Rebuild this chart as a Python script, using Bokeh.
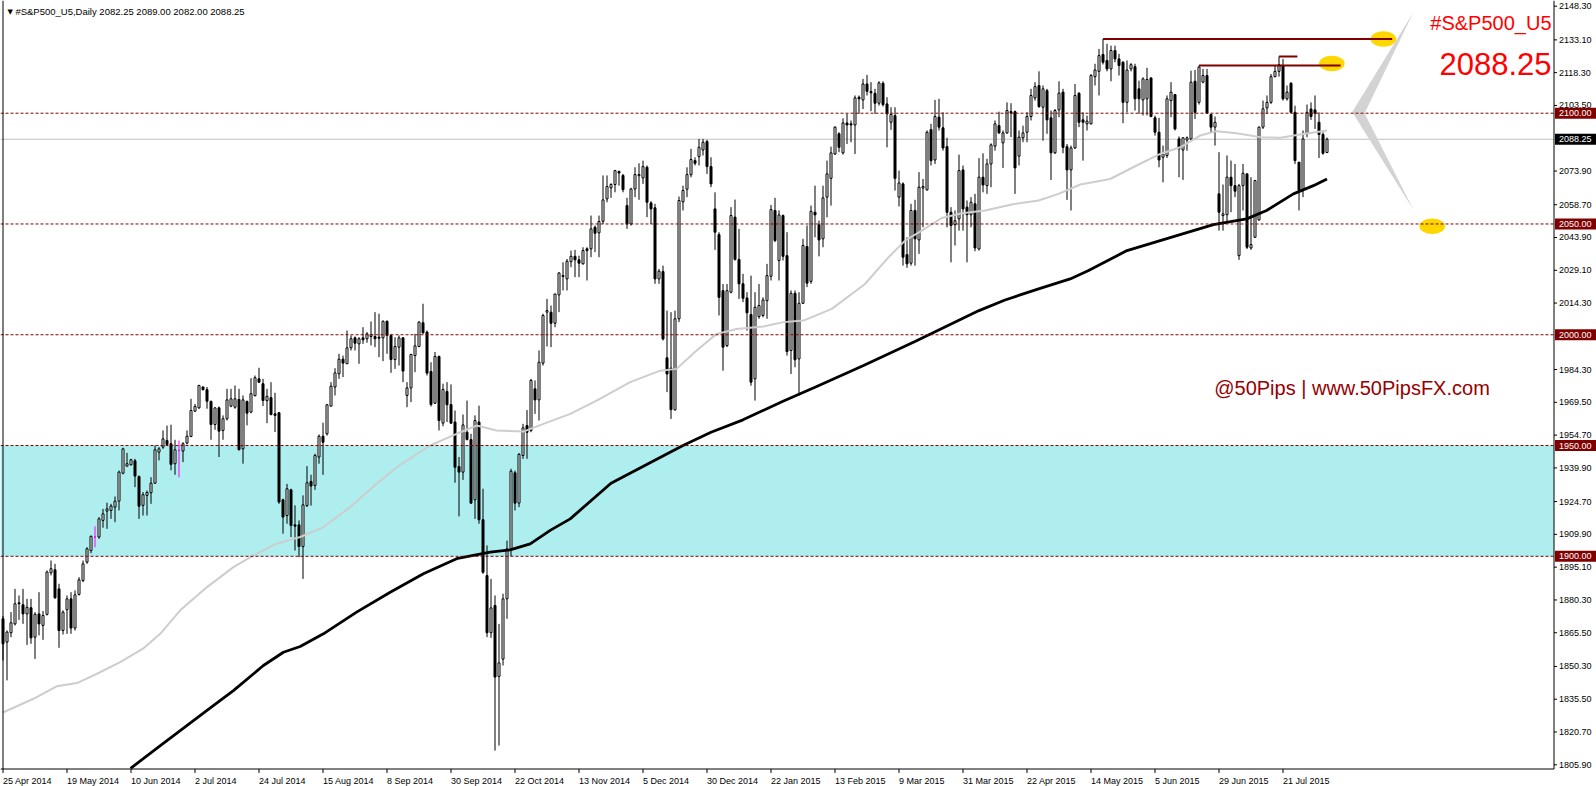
from bokeh.plotting import figure
from bokeh.models import Range1d, Label, ColumnDataSource
from bokeh.core.properties import value
from bokeh.embed import file_html
from bokeh.resources import INLINE

# ---------------- data ----------------
symbol = "#S&P500_U5"
timeframe = "Daily"

opens = [
 1871.8, 1861.3, 1865.5, 1869.5, 1879.0, 1878.1, 1874.0, 1876.8, 1863.5, 1874.0,
 1868.8, 1873.8, 1892.6, 1893.9, 1885.3, 1866.5, 1875.9, 1880.8, 1867.6, 1882.8,
 1889.1, 1897.4, 1902.6, 1908.7, 1908.7, 1916.2, 1920.4, 1920.7, 1922.2, 1924.9,
 1937.5, 1940.7, 1941.3, 1943.1, 1936.0, 1923.0, 1927.5, 1928.7, 1933.0, 1947.0,
 1949.3, 1952.3, 1950.8, 1941.8, 1947.8, 1947.5, 1951.1, 1954.1, 1965.5, 1967.0,
 1976.4, 1975.2, 1969.9, 1959.5, 1967.0, 1956.8, 1962.1, 1967.8, 1967.3, 1970.8,
 1948.5, 1969.9, 1965.1, 1972.5, 1980.1, 1977.9, 1970.3, 1971.6, 1964.3, 1964.8,
 1925.5, 1918.4, 1930.0, 1914.2, 1914.2, 1904.4, 1922.9, 1933.8, 1932.0, 1944.8,
 1954.2, 1955.3, 1967.8, 1976.4, 1982.4, 1989.0, 1986.9, 1994.1, 1998.6, 1995.9,
 1998.6, 1998.2, 1999.2, 1999.2, 1998.9, 1998.6, 2006.1, 1999.7, 1988.8, 1994.4,
 1998.6, 1972.6, 1976.0, 1990.6, 1994.7, 2005.4, 2001.2, 1983.4, 1969.1, 1990.2,
 1960.1, 1974.4, 1968.5, 1960.6, 1940.5, 1938.0, 1956.0, 1952.7, 1925.5, 1960.6,
 1916.5, 1891.3, 1865.5, 1877.8, 1845.8, 1853.6, 1880.8, 1903.4, 1937.7, 1924.0,
 1945.5, 1959.0, 1956.8, 1975.6, 1970.6, 1987.2, 2010.2, 2010.2, 2005.2, 2018.0,
 2026.7, 2025.2, 2033.0, 2035.4, 2033.8, 2032.0, 2038.8, 2038.8, 2048.5, 2046.0,
 2051.2, 2061.3, 2066.3, 2067.8, 2073.7, 2071.9, 2058.3, 2050.0, 2065.8, 2071.8,
 2070.8, 2075.6, 2059.5, 2057.3, 2025.2, 2028.5, 1989.6, 1984.9, 1966.1, 2007.2,
 2060.0, 2065.7, 2072.2, 2078.6, 2080.4, 2083.4, 2087.2, 2075.9, 2056.8, 2045.2,
 2019.9, 1995.1, 2019.2, 2053.1, 2034.0, 2023.0, 2016.6, 2009.1, 1980.1, 2008.2,
 2008.7, 2015.4, 2026.4, 2056.1, 2033.5, 2053.8, 2035.7, 1992.9, 2018.7, 1989.1,
 2014.2, 2039.8, 2024.1, 2055.3, 2049.6, 2043.3, 2062.1, 2070.6, 2081.6, 2090.7,
 2082.1, 2095.6, 2095.2, 2094.7, 2107.2, 2106.0, 2113.2, 2109.8, 2109.0, 2104.5,
 2113.5, 2104.2, 2095.9, 2098.9, 2062.1, 2068.1, 2036.2, 2032.3, 2056.1, 2042.8,
 2066.2, 2065.4, 2092.6, 2078.9, 2098.2, 2093.4, 2084.9, 2055.3, 2049.7, 2052.3,
 2074.4, 2057.6, 2054.2, 2059.1, 2038.7, 2071.1, 2067.3, 2077.1, 2085.1, 2094.4,
 2086.6, 2091.1, 2100.7, 2100.7, 2080.6, 2088.9, 2091.4, 2098.5, 2106.9, 2112.5,
 2102.7, 2110.2, 2097.9, 2082.1, 2101.5, 2109.5, 2084.9, 2074.4, 2084.3, 2109.0,
 2097.0, 2095.2, 2095.2, 2116.5, 2118.9, 2126.5, 2123.8, 2120.0, 2128.3, 2124.5,
 2123.0, 2104.9, 2120.0, 2121.0, 2111.0, 2106.0, 2106.5, 2115.9, 2097.9, 2091.4,
 2080.1, 2080.9, 2105.7, 2108.4, 2088.4, 2083.4, 2087.9, 2088.4, 2114.4, 2104.9,
 2114.0, 2117.0, 2099.4, 2093.7, 2063.6, 2053.8, 2054.2, 2071.1, 2067.3, 2035.7,
 2067.3, 2072.6, 2039.2, 2044.0, 2051.8, 2093.7, 2102.4, 2104.9, 2116.5, 2118.9,
 2121.5, 2106.5, 2113.5, 2100.4, 2077.9, 2065.4, 2090.7, 2101.9, 2101.5, 2095.9,
 2090.4, 2082.25]

highs = [
 1873.0, 1866.5, 1874.8, 1885.3, 1882.3, 1885.3, 1880.8, 1880.8, 1874.8, 1883.8,
 1875.3, 1893.6, 1898.1, 1896.6, 1887.6, 1875.6, 1882.3, 1883.8, 1884.6, 1890.6,
 1898.1, 1904.1, 1909.4, 1913.5, 1917.7, 1921.4, 1924.2, 1923.7, 1927.0, 1938.7,
 1949.0, 1946.7, 1944.0, 1944.0, 1936.5, 1929.0, 1929.7, 1935.7, 1950.0, 1949.3,
 1956.8, 1959.0, 1959.4, 1952.6, 1952.3, 1951.5, 1956.8, 1971.1, 1968.8, 1977.4,
 1976.8, 1976.4, 1970.3, 1967.3, 1967.6, 1963.6, 1975.6, 1975.6, 1977.1, 1975.6,
 1972.6, 1970.3, 1980.4, 1981.6, 1985.1, 1980.1, 1975.6, 1978.6, 1973.8, 1965.1,
 1926.0, 1932.7, 1930.5, 1923.0, 1916.2, 1927.5, 1940.7, 1936.8, 1946.3, 1955.0,
 1960.3, 1968.8, 1978.6, 1984.9, 1991.4, 1990.6, 2001.9, 1999.7, 1999.2, 1998.9,
 2003.4, 2001.2, 2006.0, 2010.2, 2009.5, 2006.4, 2006.4, 2000.4, 1998.9, 1999.7,
 1998.9, 1978.6, 1991.4, 2000.4, 2006.1, 2014.0, 2001.9, 1987.6, 1992.2, 1990.6,
 1977.9, 1978.6, 1977.6, 1965.8, 1944.8, 1964.0, 1970.3, 1955.3, 1963.6, 1968.0,
 1930.5, 1904.9, 1889.8, 1882.3, 1869.5, 1883.1, 1907.1, 1939.5, 1938.7, 1946.6,
 1959.8, 1966.0, 1980.1, 1979.4, 1992.9, 2009.5, 2016.2, 2013.2, 2018.5, 2028.2,
 2032.7, 2034.2, 2038.0, 2038.3, 2035.7, 2039.5, 2039.5, 2053.8, 2049.3, 2053.8,
 2071.9, 2071.9, 2068.4, 2074.4, 2074.1, 2072.6, 2061.8, 2066.3, 2075.6, 2077.4,
 2078.6, 2076.4, 2060.3, 2059.1, 2029.7, 2031.2, 2010.9, 2010.2, 2010.9, 2062.4,
 2067.3, 2075.6, 2083.9, 2080.1, 2088.4, 2088.4, 2088.0, 2080.1, 2064.3, 2046.3,
 2022.9, 2022.9, 2057.6, 2061.0, 2047.8, 2027.5, 2019.2, 2026.7, 2019.2, 2022.9,
 2016.9, 2032.0, 2058.6, 2061.8, 2056.1, 2054.3, 2046.3, 2020.0, 2020.0, 2019.2,
 2043.3, 2049.3, 2058.3, 2067.3, 2051.5, 2067.3, 2078.6, 2084.9, 2094.1, 2091.4,
 2097.7, 2099.7, 2096.7, 2108.0, 2108.0, 2115.5, 2117.3, 2114.0, 2111.0, 2114.4,
 2114.4, 2107.2, 2102.7, 2102.7, 2074.1, 2068.8, 2044.0, 2059.1, 2060.9, 2073.4,
 2070.3, 2092.2, 2095.2, 2106.0, 2106.5, 2100.4, 2088.9, 2057.6, 2056.1, 2081.3,
 2076.4, 2060.6, 2062.1, 2063.6, 2079.7, 2081.9, 2079.4, 2086.4, 2096.7, 2100.7,
 2092.2, 2104.9, 2104.5, 2101.2, 2092.2, 2094.4, 2100.4, 2111.0, 2114.0, 2118.9,
 2112.5, 2111.0, 2101.2, 2101.9, 2114.4, 2111.0, 2086.1, 2085.4, 2113.2, 2109.5,
 2100.4, 2098.9, 2117.7, 2122.3, 2129.0, 2133.5, 2131.3, 2130.5, 2130.5, 2126.8,
 2123.5, 2123.8, 2122.6, 2122.3, 2114.7, 2116.2, 2120.5, 2116.2, 2098.9, 2097.9,
 2085.4, 2108.0, 2114.0, 2108.7, 2089.5, 2089.2, 2089.5, 2119.2, 2119.5, 2121.5,
 2120.0, 2120.0, 2099.7, 2098.5, 2082.4, 2067.8, 2080.9, 2078.6, 2077.1, 2068.1,
 2077.1, 2072.9, 2071.1, 2069.9, 2094.0, 2105.7, 2108.0, 2117.7, 2121.5, 2125.6,
 2124.5, 2112.5, 2114.0, 2103.4, 2077.9, 2092.2, 2103.9, 2104.9, 2108.0, 2100.4,
 2091.4, 2089.0]

lows = [
 1853.0, 1844.0, 1863.5, 1868.8, 1871.3, 1869.5, 1860.0, 1860.5, 1853.7, 1864.3,
 1862.3, 1873.3, 1891.4, 1880.8, 1858.7, 1864.7, 1865.0, 1865.0, 1866.5, 1882.3,
 1888.3, 1896.6, 1901.4, 1904.1, 1907.9, 1912.9, 1912.4, 1916.9, 1915.4, 1920.7,
 1937.0, 1940.6, 1941.0, 1931.2, 1916.9, 1918.4, 1918.4, 1923.7, 1932.7, 1943.3,
 1948.5, 1950.0, 1938.8, 1936.8, 1935.7, 1942.5, 1950.5, 1953.8, 1965.1, 1966.6,
 1974.9, 1966.6, 1952.6, 1957.1, 1944.8, 1952.6, 1961.3, 1967.3, 1966.6, 1947.8,
 1941.8, 1959.1, 1964.6, 1972.2, 1978.2, 1967.8, 1960.1, 1963.6, 1956.1, 1923.7,
 1910.2, 1914.7, 1908.7, 1902.6, 1899.6, 1889.8, 1922.2, 1922.9, 1930.0, 1941.8,
 1936.8, 1954.5, 1967.6, 1972.6, 1980.1, 1980.9, 1986.9, 1992.9, 1992.9, 1986.9,
 1995.9, 1996.4, 1995.2, 1994.4, 1989.9, 1988.1, 1991.4, 1982.8, 1984.6, 1986.1,
 1978.6, 1967.3, 1969.6, 1983.1, 1994.4, 2000.4, 1981.6, 1967.6, 1968.8, 1956.8,
 1958.7, 1960.6, 1959.8, 1933.2, 1918.0, 1934.5, 1952.3, 1923.7, 1916.9, 1914.7,
 1892.1, 1863.5, 1863.2, 1812.3, 1814.6, 1850.7, 1871.8, 1900.0, 1920.7, 1922.2,
 1944.0, 1944.0, 1956.0, 1964.3, 1961.3, 1986.1, 1994.7, 1994.4, 2003.4, 2010.2,
 2020.0, 2020.0, 2030.5, 2026.0, 2026.0, 2031.7, 2024.5, 2035.0, 2037.3, 2035.0,
 2050.0, 2059.8, 2061.8, 2064.3, 2067.3, 2064.3, 2047.8, 2049.3, 2062.1, 2060.9,
 2068.1, 2053.1, 2050.0, 2023.0, 2023.0, 1997.4, 1974.1, 1962.0, 1965.8, 2005.7,
 2056.1, 2062.1, 2071.1, 2076.4, 2076.4, 2080.9, 2072.6, 2066.6, 2038.3, 2008.7,
 1983.8, 1994.4, 2018.7, 2033.5, 2016.2, 2014.7, 2001.9, 1977.0, 1970.3, 2007.2,
 2007.9, 2007.2, 2024.5, 2041.8, 2024.5, 2033.5, 1990.6, 1982.3, 1985.3, 1972.6,
 2013.9, 2021.5, 2023.0, 2044.0, 2035.4, 2039.5, 2053.0, 2058.3, 2081.2, 2082.4,
 2081.3, 2086.1, 2086.9, 2081.6, 2099.7, 2101.9, 2108.0, 2100.9, 2099.7, 2103.4,
 2103.0, 2084.6, 2092.5, 2065.1, 2057.9, 2031.2, 2030.2, 2031.2, 2031.2, 2036.5,
 2048.5, 2065.1, 2076.4, 2077.1, 2092.2, 2083.1, 2048.5, 2032.7, 2040.3, 2047.0,
 2047.0, 2032.7, 2048.5, 2037.7, 2038.0, 2064.3, 2063.6, 2066.6, 2083.1, 2090.7,
 2075.3, 2090.7, 2089.2, 2063.6, 2076.4, 2086.9, 2086.9, 2096.7, 2105.7, 2102.4,
 2087.6, 2090.7, 2069.9, 2081.6, 2098.2, 2081.9, 2060.9, 2056.1, 2083.9, 2093.7,
 2078.6, 2092.2, 2094.9, 2112.5, 2108.0, 2122.0, 2118.9, 2114.4, 2123.0, 2117.0,
 2095.5, 2100.4, 2118.9, 2101.2, 2099.7, 2099.0, 2099.0, 2098.2, 2089.9, 2075.6,
 2068.8, 2079.8, 2098.2, 2092.2, 2071.1, 2069.9, 2083.1, 2087.6, 2097.4, 2103.9,
 2113.5, 2099.7, 2091.4, 2085.4, 2047.0, 2047.0, 2050.0, 2055.3, 2062.1, 2033.8,
 2056.1, 2038.7, 2038.3, 2043.7, 2051.5, 2092.9, 2099.7, 2104.2, 2116.2, 2116.5,
 2105.7, 2105.7, 2100.0, 2077.1, 2056.1, 2062.1, 2089.2, 2097.0, 2092.9, 2079.8,
 2081.3, 2082.0]

closes = [
 1860.5, 1865.8, 1870.0, 1878.6, 1878.6, 1874.0, 1877.0, 1863.2, 1873.8, 1869.5,
 1873.3, 1892.9, 1894.4, 1881.3, 1866.5, 1874.8, 1880.8, 1867.6, 1882.6, 1889.4,
 1896.6, 1903.4, 1909.0, 1908.7, 1916.9, 1919.2, 1921.4, 1922.7, 1924.9, 1938.0,
 1948.5, 1941.8, 1943.6, 1936.2, 1922.6, 1927.8, 1928.8, 1933.0, 1948.1, 1948.5,
 1953.0, 1950.5, 1941.5, 1948.1, 1947.8, 1950.8, 1954.2, 1965.8, 1967.6, 1977.1,
 1975.2, 1970.0, 1959.5, 1967.0, 1956.5, 1962.1, 1970.6, 1971.1, 1971.1, 1948.1,
 1970.6, 1964.6, 1973.4, 1980.6, 1978.6, 1970.3, 1972.2, 1964.0, 1963.6, 1924.5,
 1917.7, 1930.5, 1913.9, 1913.6, 1904.4, 1923.2, 1933.2, 1931.7, 1945.5, 1954.2,
 1951.5, 1968.4, 1976.8, 1982.8, 1989.0, 1987.2, 1994.1, 1998.2, 1996.2, 1998.2,
 1997.7, 2000.4, 2000.0, 1998.2, 1998.4, 2006.1, 1999.7, 1988.8, 1994.7, 1998.6,
 1983.6, 1976.0, 1991.1, 1995.0, 2005.7, 2000.9, 1982.7, 1968.5, 1990.2, 1961.3,
 1975.3, 1968.4, 1960.1, 1940.2, 1938.0, 1959.3, 1952.7, 1924.0, 1961.3, 1916.5,
 1892.8, 1865.5, 1876.7, 1845.5, 1851.9, 1880.8, 1903.4, 1938.4, 1924.0, 1946.0,
 1958.0, 1956.0, 1979.4, 1970.6, 1987.6, 2008.7, 2010.9, 2005.2, 2018.4, 2027.9,
 2026.3, 2033.2, 2035.4, 2033.8, 2032.3, 2038.0, 2038.0, 2047.8, 2045.8, 2051.1,
 2060.9, 2066.9, 2067.8, 2074.1, 2073.0, 2065.5, 2050.0, 2065.8, 2072.3, 2072.3,
 2075.9, 2059.8, 2056.8, 2025.2, 2028.7, 1998.1, 1982.3, 1966.2, 2007.2, 2060.6,
 2065.1, 2072.3, 2079.1, 2077.4, 2084.6, 2086.9, 2075.9, 2068.1, 2046.3, 2016.9,
 1994.4, 2019.9, 2053.8, 2034.0, 2023.0, 2016.5, 2009.9, 1978.6, 2012.4, 2013.2,
 2015.7, 2026.7, 2056.5, 2042.5, 2054.1, 2035.4, 1992.4, 2018.7, 1988.7, 2014.2,
 2040.3, 2023.3, 2055.7, 2054.1, 2042.8, 2061.8, 2072.6, 2082.1, 2093.7, 2084.6,
 2095.6, 2094.7, 2094.7, 2106.9, 2106.5, 2113.2, 2109.9, 2109.2, 2104.5, 2113.7,
 2103.9, 2099.7, 2099.4, 2070.6, 2068.5, 2035.0, 2032.0, 2056.1, 2043.3, 2066.6,
 2066.9, 2091.4, 2078.6, 2098.5, 2093.7, 2084.3, 2055.3, 2049.3, 2051.5, 2074.1,
 2056.8, 2054.2, 2059.8, 2039.2, 2071.1, 2067.6, 2077.1, 2085.7, 2095.2, 2091.1,
 2091.1, 2101.2, 2100.1, 2075.3, 2089.2, 2091.1, 2098.5, 2108.0, 2112.0, 2103.0,
 2111.0, 2097.0, 2082.1, 2101.2, 2109.0, 2084.6, 2074.4, 2084.3, 2108.0, 2095.9,
 2095.9, 2096.4, 2117.0, 2119.5, 2126.0, 2123.0, 2120.0, 2128.3, 2124.5, 2121.5,
 2104.9, 2119.5, 2121.9, 2106.5, 2106.5, 2115.5, 2115.2, 2098.5, 2091.4, 2078.9,
 2081.6, 2106.5, 2109.5, 2092.9, 2083.9, 2088.9, 2088.9, 2114.0, 2100.4, 2120.8,
 2117.0, 2100.1, 2093.7, 2095.9, 2055.3, 2054.6, 2071.1, 2067.3, 2064.8, 2067.3,
 2072.9, 2039.5, 2040.7, 2069.6, 2093.7, 2102.0, 2104.9, 2116.5, 2118.9, 2121.9,
 2106.5, 2109.5, 2100.4, 2078.6, 2065.1, 2088.4, 2100.4, 2098.5, 2100.0, 2090.4,
 2081.9, 2088.25]

# moving averages (bar position, value)
ma_slow_x = [0, 7.6, 13.4, 18.5, 23.5, 29.3, 35, 39.3, 44.3, 51, 57.6, 62.6, 68.4, 74.3,
             80.1, 86.8, 93.4, 98.4, 106.8, 113.4, 118.4, 123.4, 130.1, 135.1, 141.8,
             148.4, 156.8, 164.3, 168.4, 173.4, 178.4, 183.4, 190.1, 195.1, 200.1,
             207.2, 215.5, 221.4, 225.5, 229.7, 234.7, 239.7, 245.5, 252.2, 258.9,
             263.9, 269.3, 276.8, 283.4, 289.3, 294.3, 299.3, 303.4, 308.4, 314.3,
             319.3, 324.3, 331]
ma_slow_y = [1829.5, 1835.7, 1841.3, 1842.8, 1847.0, 1852.2, 1858.3, 1865.0, 1875.6,
             1886.1, 1895.1, 1900.4, 1905.7, 1908.7, 1913.2, 1922.2, 1932.7, 1940.2,
             1950.0, 1955.3, 1959.0, 1956.8, 1956.3, 1959.8, 1964.3, 1970.3, 1978.6,
             1983.8, 1984.6, 1992.9, 2000.4, 2002.6, 2003.7, 2005.7, 2006.4, 2011.7,
             2022.9, 2035.0, 2042.5, 2047.0, 2052.7, 2054.8, 2056.1, 2058.8, 2060.6,
             2063.6, 2067.8, 2070.3, 2076.4, 2081.6, 2084.6, 2089.9, 2091.9, 2091.0,
             2089.2, 2088.9, 2090.4, 2092.2]
ma_long_x = [31.9, 39.5, 51, 57.6, 65.1, 70.1, 74.3, 80.1, 88.4, 96.8, 105.1, 113.4, 121.8,
             126.8, 131.8, 136.8, 141.8, 152, 162, 170, 177, 185, 195, 203, 215, 228,
             244, 250.5, 258.9, 266.8, 271.4, 281, 289.3, 297.6, 302.6, 310.9, 315.9,
             322.6, 327.6, 331]
ma_long_y = [1804.3, 1814.8, 1830.5, 1839.4, 1850.7, 1856.7, 1859.3, 1865.0, 1874.8,
             1883.8, 1892.1, 1898.9, 1901.9, 1902.9, 1905.6, 1911.7, 1916.9, 1933.0,
             1942.5, 1950.0, 1956.0, 1961.6, 1970.0, 1976.3, 1986.0, 1997.0, 2010.9,
             2015.7, 2020.7, 2025.2, 2029.0, 2038.0, 2042.5, 2047.0, 2049.7, 2052.3,
             2056.1, 2063.6, 2067.3, 2070.3]

date_tick_bars = [0, 16, 32, 48, 64, 80, 96, 112, 128, 144, 160, 176, 192, 208, 224,
                  240, 256, 272, 288, 304, 320]
date_tick_labels = ["25 Apr 2014", "19 May 2014", "10 Jun 2014", "2 Jul 2014",
                    "24 Jul 2014", "15 Aug 2014", "8 Sep 2014", "30 Sep 2014",
                    "22 Oct 2014", "13 Nov 2014", "5 Dec 2014", "30 Dec 2014",
                    "22 Jan 2015", "13 Feb 2015", "9 Mar 2015", "31 Mar 2015",
                    "22 Apr 2015", "14 May 2015", "5 Jun 2015", "29 Jun 2015",
                    "21 Jul 2015"]
price_ticks = [2148.3, 2133.1, 2118.3, 2103.5, 2073.9, 2058.7, 2043.9, 2029.1, 2014.3,
               1984.3, 1969.5, 1954.7, 1939.9, 1924.7, 1909.9, 1895.1, 1880.3, 1865.5,
               1850.3, 1835.5, 1820.7, 1805.9]
levels = [2100.0, 2050.0, 2000.0, 1950.0, 1900.0]
zone = (1900.0, 1950.0)

# drawing objects (bar index, price)
res_lines = [(275, 347.3), (299, 334.4), (319, 323.6)]   # from bar (at its high) to bar
ellipse_x = [345.1, 332.2, 357.3]
ellipse_y = [2133.5, 2122.4, 2049.0]
chevron_x = [352.6, 337.3, 352.6, 340.4]
chevron_y = [2145.6, 2100.5, 2056.4, 2100.0]

# ---------------- layout constants ----------------
W, H = 1596, 786
BAR_PX = 4.0                      # pixels per bar
X0 = -0.625
X1 = X0 + W / BAR_PX
XA = 387.75                       # bar coordinate of the price-scale line
Y1 = 2150.87                      # price at the top edge
Y0 = 1796.1                       # price at the bottom edge
PXX = (X1 - X0) / W               # data units per pixel
PXY = (Y1 - Y0) / H
YL = Y1 - 768.5 * PXY             # time-scale line
FONT = "Liberation Sans"

p = figure(width=W, height=H, x_range=Range1d(X0, X1), y_range=Range1d(Y0, Y1),
           x_axis_location=None, y_axis_location=None, output_backend="svg",
           toolbar_location=None, min_border=0, outline_line_color=None,
           background_fill_color="white", border_fill_color="white")
for g in p.grid:
    g.visible = False

# support zone, current price line
p.quad(left=[X0], right=[XA], bottom=[zone[0]], top=[zone[1]], fill_color="#AFEEEE",
       line_alpha=0)
p.segment(x0=[X0], y0=[closes[-1]], x1=[XA], y1=[closes[-1]], line_color="#C0C0C0",
          line_width=1)

# candles
idx = list(range(len(closes)))
body_top = [max(o, c) for o, c in zip(opens, closes)]
body_bot = [min(o, c) for o, c in zip(opens, closes)]
fill = ["white" if c > o else ("black" if c < o else "magenta") for o, c in zip(opens, closes)]
edge = ["magenta" if c == o else "black" for o, c in zip(opens, closes)]
src = ColumnDataSource(dict(x=idx, h=highs, l=lows, top=body_top, bot=body_bot,
                            fill=fill, edge=edge))
p.segment(x0="x", y0="l", x1="x", y1="h", line_color="edge", line_width=1, source=src)
p.vbar(x="x", width=0.5, top="top", bottom="bot", fill_color="fill", line_color="edge",
       line_width=1, source=src)

# moving averages
p.line(ma_slow_x, ma_slow_y, line_color="#CDCDCD", line_width=2)
p.line(ma_long_x, ma_long_y, line_color="black", line_width=2.8)

# drawing objects
p.ellipse(x=ellipse_x, y=ellipse_y, width=6.4, height=7.0, fill_color="#FFD700",
          line_alpha=0)
for b0, b1 in res_lines:
    p.segment(x0=[b0], y0=[highs[b0]], x1=[b1], y1=[highs[b0]], line_color="#800000",
              line_width=2)
p.patch(chevron_x, chevron_y, fill_color="#D3D3D3", line_alpha=0)
p.segment(x0=[X0] * len(levels), y0=levels, x1=[XA] * len(levels), y1=levels,
          line_color="#800000", line_dash="3 2", line_width=1)

# frame lines: left border, time scale line, price scale line
p.segment(x0=[0], y0=[YL], x1=[0], y1=[Y1], line_color="black")
p.segment(x0=[X0], y0=[YL], x1=[XA], y1=[YL], line_color="black")
p.segment(x0=[XA], y0=[YL], x1=[XA], y1=[Y1], line_color="black")

# time scale ticks and labels
p.segment(x0=date_tick_bars, y0=[YL] * len(date_tick_bars), x1=date_tick_bars,
          y1=[YL - 4 * PXY] * len(date_tick_bars), line_color="black")
p.text(x=date_tick_bars, y=[YL - 11.5 * PXY] * len(date_tick_bars), text=date_tick_labels,
       text_font=value(FONT), text_font_size=value("9px"), text_color="black",
       text_align="left", text_baseline="middle")

# price scale ticks and labels
p.segment(x0=[XA] * len(price_ticks), y0=price_ticks,
          x1=[XA + 3 * PXX] * len(price_ticks), y1=price_ticks, line_color="black")
p.text(x=[XA + 5 * PXX] * len(price_ticks), y=price_ticks,
       text=[f"{t:.2f}" for t in price_ticks], text_font=value(FONT),
       text_font_size=value("9px"), text_color="black", text_align="left",
       text_baseline="middle")

# highlighted price boxes
box_y = levels + [closes[-1]]
box_c = ["#800000"] * len(levels) + ["black"]
p.quad(left=[XA + 1.0 * PXX] * len(box_y), right=[X1] * len(box_y),
       bottom=[v - 5.5 * PXY for v in box_y], top=[v + 5.5 * PXY for v in box_y],
       fill_color=box_c, line_alpha=0)
p.text(x=[XA + 5 * PXX] * len(box_y), y=box_y, text=[f"{v:.2f}" for v in box_y],
       text_font=value(FONT), text_font_size=value("9px"), text_color="white",
       text_align="left", text_baseline="middle")

# texts
p.add_layout(Label(x=XA - 2.5 * PXX, y=2140.6, text=symbol, text_font=FONT,
                   text_font_size="20px", text_color="#FF0000", text_align="right",
                   text_baseline="alphabetic"))
p.add_layout(Label(x=XA - 2.5 * PXX, y=2122.3, text=f"{closes[-1]:.2f}", text_font=FONT,
                   text_font_size="31px", text_color="#FF0000", text_align="right",
                   text_baseline="alphabetic"))
p.add_layout(Label(x=302.8, y=1976.1, text="@50Pips | www.50PipsFX.com", text_font=FONT,
                   text_font_size="20px", text_color="#990000", text_align="left",
                   text_baseline="alphabetic"))
p.add_layout(Label(x=1.1, y=2145.9, text="\u25BC", text_font="DejaVu Sans",
                   text_font_size="7px", text_color="black", text_align="left",
                   text_baseline="middle"))
title = (f"{symbol},{timeframe}  {opens[-1]:.2f} {highs[-1]:.2f} "
         f"{lows[-1]:.2f} {closes[-1]:.2f}")
p.add_layout(Label(x=3.1, y=2145.9, text=title, text_font=FONT, text_font_size="9.5px",
                   text_color="black", text_align="left", text_baseline="middle"))

open("out.html", "w").write(file_html(p, INLINE))
